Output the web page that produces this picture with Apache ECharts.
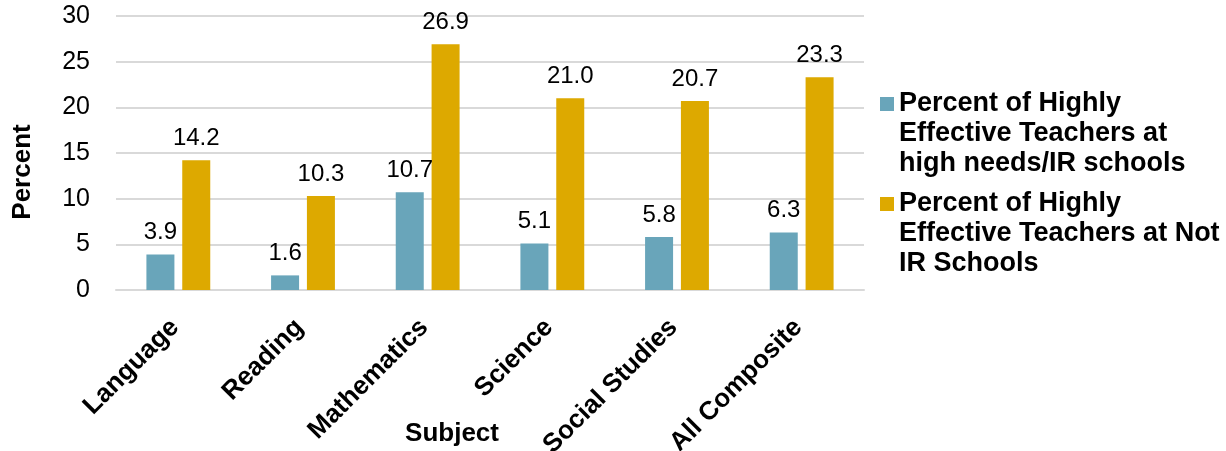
<!DOCTYPE html>
<html>
<head>
<meta charset="utf-8">
<script src="https://cdn.jsdelivr.net/npm/echarts@6/dist/echarts.min.js"></script>
<style>
html,body{margin:0;padding:0;background:#fff;}
#chart{width:1226px;height:451px;}
</style>
</head>
<body>
<div id="chart"></div>
<script>
const categories = ['Language', 'Reading', 'Mathematics', 'Science', 'Social Studies', 'All Composite'];
const highNeedsIR = [3.9, 1.6, 10.7, 5.1, 5.8, 6.3];
const notIR = [14.2, 10.3, 26.9, 21.0, 20.7, 23.3];
const seriesNames = [
  'Percent of Highly\nEffective Teachers at\nhigh needs/IR schools',
  'Percent of Highly\nEffective Teachers at Not\nIR Schools'
];
const yTicks = { min: 0, max: 30, interval: 5 };

const FONT = '"Liberation Sans", Arial, sans-serif';
const LH = 30;

const chart = echarts.init(document.getElementById('chart'), null, { renderer: 'canvas' });

function legendCfg(name, top) {
  return {
    data: [name],
    left: 880,
    top: top,
    orient: 'vertical',
    padding: 0,
    itemWidth: 14,
    itemHeight: 14,
    itemGap: 0,
    icon: 'rect',
    selectedMode: false,
    formatter: n => '\n\n' + n,
    textStyle: {
      fontFamily: FONT,
      fontSize: 27,
      fontWeight: 'bold',
      color: '#000',
      lineHeight: LH
    }
  };
}

const labelStyle = {
  show: true,
  position: 'top',
  distance: 10,
  fontFamily: FONT,
  fontSize: 24,
  color: '#000',
  formatter: p => p.value.toFixed(1)
};

chart.setOption({
  animation: false,
  textStyle: { fontFamily: FONT },
  grid: { left: 116, right: 362, top: 16, bottom: 161, containLabel: false, outerBoundsMode: 'none' },
  legend: [legendCfg(seriesNames[0], 29), legendCfg(seriesNames[1], 129)],
  xAxis: {
    type: 'category',
    data: categories,
    axisLine: { show: true, lineStyle: { color: '#d9d9d9', width: 2 } },
    axisTick: { show: false },
    axisLabel: {
      rotate: 45,
      interval: 0,
      margin: 30,
      padding: [0, 5, 0, 0],
      fontFamily: FONT,
      fontSize: 26,
      fontWeight: 'bold',
      color: '#000'
    },
    name: 'Subject',
    nameLocation: 'middle',
    nameGap: 131,
    nameMoveOverlap: false,
    nameTextStyle: {
      fontFamily: FONT,
      fontSize: 26,
      fontWeight: 'bold',
      color: '#000',
      padding: [0, 76, 0, 0]
    }
  },
  yAxis: {
    type: 'value',
    min: yTicks.min,
    max: yTicks.max,
    interval: yTicks.interval,
    axisLine: { show: false },
    axisTick: { show: false },
    splitLine: { lineStyle: { color: '#d9d9d9', width: 2 } },
    axisLabel: {
      margin: 26,
      fontFamily: FONT,
      fontSize: 25,
      color: '#000'
    },
    name: 'Percent',
    nameLocation: 'middle',
    nameGap: 80,
    nameRotate: 90,
    nameTextStyle: {
      fontFamily: FONT,
      fontSize: 26,
      fontWeight: 'bold',
      color: '#000',
      padding: [0, 38, 0, 0]
    }
  },
  series: [
    {
      name: seriesNames[0],
      type: 'bar',
      data: highNeedsIR,
      barWidth: 28,
      barGap: '28%',
      itemStyle: { color: '#69A5BA' },
      label: labelStyle
    },
    {
      name: seriesNames[1],
      type: 'bar',
      data: notIR,
      barWidth: 28,
      barGap: '28%',
      itemStyle: { color: '#DDA900' },
      label: labelStyle
    }
  ]
});
</script>
</body>
</html>
